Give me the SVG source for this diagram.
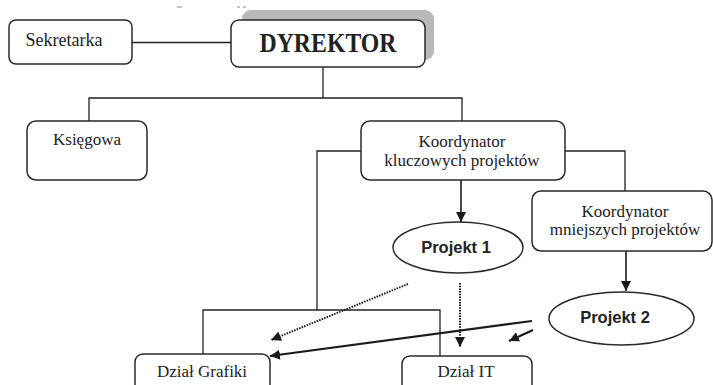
<svg xmlns="http://www.w3.org/2000/svg" width="713" height="385" viewBox="0 0 713 385">
  <style>
    .box { fill: #ffffff; stroke: #2a2a2a; stroke-width: 1.5; }
    .lbl { font-size: 17px; fill: #222; text-anchor: middle; }
    .proj { font-weight: bold; font-size: 16.5px; fill: #222; text-anchor: middle; }
    .ln { fill: none; stroke: #222; stroke-width: 1.3; }
    .arr { fill: none; stroke: #1a1a1a; stroke-width: 1.6; marker-end: url(#tri); }
    .thick { fill: none; stroke: #1a1a1a; stroke-width: 2.2; marker-end: url(#tri); }
    .dot { fill: none; stroke: #1a1a1a; stroke-width: 2; stroke-dasharray: 1.5 1.2; marker-end: url(#tri); }
  </style>
  <defs>
    <marker id="tri" viewBox="0 0 10 10" refX="10" refY="5" markerWidth="10" markerHeight="10" markerUnits="userSpaceOnUse" orient="auto">
      <path d="M0,0 L10,5 L0,10 z" fill="#1a1a1a"/>
    </marker>
  </defs>
  <rect width="713" height="385" fill="#ffffff"/>

  <!-- remnants of text cut off at the top edge -->
  <g stroke="#888" stroke-width="1">
    <line x1="177" y1="7" x2="182" y2="7"/>
    <line x1="237" y1="7" x2="240" y2="7"/>
    <line x1="243" y1="7" x2="246" y2="7"/>
  </g>

  <!-- connectors -->
  <g id="connectors">
    <line class="ln" x1="132" y1="42.5" x2="231" y2="42.5"/>
    <polyline class="ln" points="323,67 323,98"/>
    <polyline class="ln" points="89,121 89,98 462,98 462,121"/>
    <polyline class="ln" points="361,151 317,151 317,310"/>
    <polyline class="ln" points="203,354 203,310 440,310 440,356"/>
    <polyline class="ln" points="565,151 625,151 625,191"/>
    <line class="arr" x1="461" y1="180" x2="461" y2="222"/>
    <line class="arr" x1="626" y1="251" x2="626" y2="291"/>
    <line class="dot" x1="460" y1="283" x2="460" y2="347"/>
    <line class="dot" x1="408" y1="284" x2="271" y2="340"/>
    <line class="thick" x1="532" y1="321" x2="270" y2="356"/>
    <line class="thick" x1="533" y1="330" x2="509" y2="341"/>
  </g>

  <g font-family="Liberation Serif, Times New Roman, serif">
    <g id="sekretarka">
      <rect class="box" x="9" y="20" width="123" height="44" rx="7"/>
      <text class="lbl" x="64" y="46" style="font-size:18px">Sekretarka</text>
    </g>

    <g id="dyrektor">
      <rect x="242" y="10" width="192" height="50" rx="9" fill="#b9b9b9"/>
      <rect class="box" x="231" y="20" width="194" height="47" rx="8"/>
      <text x="328" y="52" font-weight="bold" font-size="27" fill="#222" text-anchor="middle" textLength="137" lengthAdjust="spacingAndGlyphs">DYREKTOR</text>
    </g>

    <g id="ksiegowa">
      <rect class="box" x="27" y="121" width="120" height="59" rx="9"/>
      <text class="lbl" x="87" y="145">Księgowa</text>
    </g>

    <g id="koord-kluczowych">
      <rect class="box" x="361" y="121" width="204" height="59" rx="9"/>
      <text class="lbl" x="462" y="147">Koordynator</text>
      <text class="lbl" x="462" y="166">kluczowych projektów</text>
    </g>

    <g id="koord-mniejszych">
      <rect class="box" x="532" y="191" width="180" height="60" rx="9"/>
      <text class="lbl" x="625" y="217">Koordynator</text>
      <text class="lbl" x="625" y="235">mniejszych projektów</text>
    </g>

    <g id="dzial-grafiki">
      <rect class="box" x="135" y="354" width="135" height="45" rx="8"/>
      <text class="lbl" x="202" y="377">Dział Grafiki</text>
    </g>

    <g id="dzial-it">
      <rect class="box" x="402" y="356" width="130" height="45" rx="8"/>
      <text class="lbl" x="466" y="377">Dział IT</text>
    </g>
  </g>

  <g font-family="Liberation Sans, Arial, sans-serif">
    <g id="projekt1">
      <ellipse class="box" cx="458" cy="247.5" rx="65" ry="25.5"/>
      <text class="proj" x="456" y="253">Projekt 1</text>
    </g>

    <g id="projekt2">
      <ellipse class="box" cx="621.5" cy="318.5" rx="72.5" ry="26.5"/>
      <text class="proj" x="615" y="323">Projekt 2</text>
    </g>
  </g>
</svg>
